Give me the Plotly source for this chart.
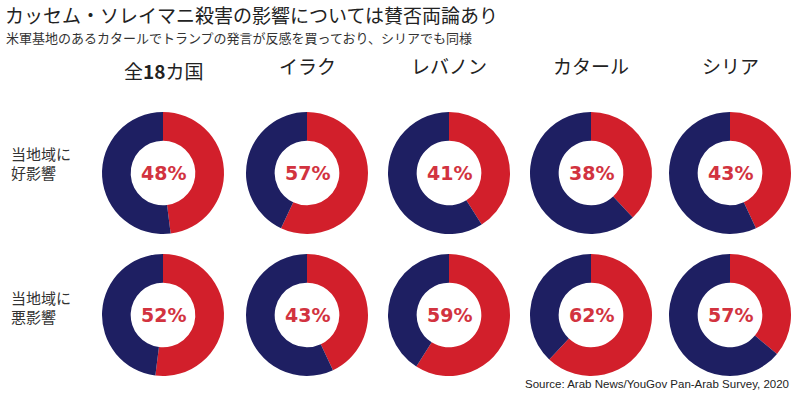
import plotly.graph_objects as go

# ---- data ----
countries = ["全<b>18</b>カ国", "イラク", "レバノン", "カタール", "シリア"]
row_label_lines = [["当地域に", "好影響"], ["当地域に", "悪影響"]]
positive_pct = [48, 57, 41, 38, 43]      # labels, row 1
negative_pct = [52, 43, 59, 62, 57]      # labels, row 2
positive_drawn = [48, 57, 41, 38, 43]    # red share as drawn, row 1
negative_drawn = [52, 43, 59, 62, 36]    # red share as drawn, row 2

title = "カッセム・ソレイマニ殺害の影響については賛否両論あり"
subtitle = "米軍基地のあるカタールでトランプの発言が反感を買っており、シリアでも同様"
source = "Source: Arab News/YouGov Pan-Arab Survey, 2020"

# ---- style ----
W, H = 800, 398
RED = "#d21f2b"
NAVY = "#1e1f62"
LABEL_RED = "#d2333f"
JP = "Noto Sans CJK JP"
col_x = [163, 307, 449, 591, 730]
row_y = [173, 315]
header_y = [71, 66, 66, 66, 66]
R = 61

fig = go.Figure()
annotations = []

rows = [(positive_pct, positive_drawn), (negative_pct, negative_drawn)]
for ri, (labels, drawn) in enumerate(rows):
    cy = row_y[ri]
    for ci, cx in enumerate(col_x):
        red = drawn[ci]
        fig.add_trace(go.Pie(
            values=[red, 100 - red],
            labels=["red", "navy"],
            sort=False,
            direction="clockwise",
            rotation=0,
            hole=0.53,
            textinfo="none",
            hoverinfo="skip",
            showlegend=False,
            marker=dict(colors=[RED, NAVY], line=dict(width=0)),
            domain=dict(x=[(cx - R) / W, (cx + R) / W],
                        y=[1 - (cy + R) / H, 1 - (cy - R) / H]),
        ))
        annotations.append(dict(
            x=cx / W, y=1 - cy / H, xref="paper", yref="paper",
            text=f"<b>{labels[ci]}%</b>", showarrow=False,
            font=dict(family="DejaVu Sans, sans-serif", size=19, color=LABEL_RED),
            xanchor="center", yanchor="middle",
        ))

# column headers
for ci, cx in enumerate(col_x):
    annotations.append(dict(
        x=cx / W, y=1 - header_y[ci] / H, xref="paper", yref="paper",
        text=countries[ci], showarrow=False,
        font=dict(family=JP, size=19, color="#222222"),
        xanchor="center", yanchor="middle",
    ))

# row labels (two lines each)
row_label_y = [[153, 172], [297, 316]]
for ri in range(2):
    for li, txt in enumerate(row_label_lines[ri]):
        annotations.append(dict(
            x=10 / W, y=1 - row_label_y[ri][li] / H, xref="paper", yref="paper",
            text=txt, showarrow=False, align="left",
            font=dict(family=JP, size=15, color="#333333"),
            xanchor="left", yanchor="middle", borderpad=0,
        ))

# title, subtitle, source
annotations.append(dict(
    x=3 / W, y=1 - 15 / H, xref="paper", yref="paper",
    text=title, showarrow=False,
    font=dict(family=JP, size=19, color="#222222"),
    xanchor="left", yanchor="middle",
))
annotations.append(dict(
    x=4 / W, y=1 - 37 / H, xref="paper", yref="paper",
    text=subtitle, showarrow=False,
    font=dict(family=JP, size=13, color="#333333"),
    xanchor="left", yanchor="middle",
))
annotations.append(dict(
    x=791 / W, y=1 - 384 / H, xref="paper", yref="paper",
    text=source, showarrow=False,
    font=dict(family="Liberation Sans, Arial, sans-serif", size=11.5, color="#222222"),
    xanchor="right", yanchor="middle",
))

fig.update_layout(
    width=W, height=H,
    margin=dict(l=0, r=0, t=0, b=0),
    paper_bgcolor="white", plot_bgcolor="white",
    annotations=annotations,
)

fig.write_html("out.html", config={"displayModeBar": False})

# remove the default page margin so the figure sits at the window's origin
with open("out.html", "r", encoding="utf-8") as f:
    html = f.read()
html = html.replace("<head>", "<head><style>html,body{margin:0;padding:0;overflow:hidden;}</style>", 1)
with open("out.html", "w", encoding="utf-8") as f:
    f.write(html)
